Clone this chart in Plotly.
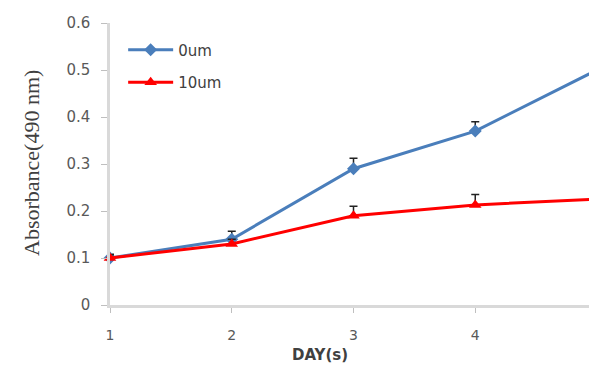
import plotly.graph_objects as go

days = [1, 2, 3, 4, 5]
s0_vals = [0.100, 0.140, 0.290, 0.370, 0.500]
s0_err = [0.008, 0.017, 0.022, 0.020, 0.020]
s10_vals = [0.100, 0.130, 0.190, 0.213, 0.225]
s10_err = [0.007, 0.010, 0.020, 0.022, 0.024]
y_ticks = [0, 0.1, 0.2, 0.3, 0.4, 0.5, 0.6]
y_tick_labels = ["0", "0.1", "0.2", "0.3", "0.4", "0.5", "0.6"]

fig = go.Figure()
fig.add_trace(go.Scatter(
    x=days, y=s0_vals, name="0um", mode="lines+markers", legendgroup="a",
    line=dict(color="#4a7ebb", width=3),
    marker=dict(symbol="diamond", size=10, color="#4a7ebb"),
    error_y=dict(type="data", symmetric=False, array=s0_err,
                 arrayminus=[0] * len(s0_err), color="#222222", thickness=1.5, width=4),
    cliponaxis=False,
))
fig.add_trace(go.Scatter(
    x=days, y=s10_vals, name="10um", mode="lines+markers", legendgroup="b",
    line=dict(color="#ff0000", width=3),
    marker=dict(symbol="triangle-up", size=11, color="#ff0000"),
    error_y=dict(type="data", symmetric=False, array=s10_err,
                 arrayminus=[0] * len(s10_err), color="#222222", thickness=1.5, width=4),
    cliponaxis=False,
))

fig.update_layout(
    width=589, height=357,
    margin=dict(l=102, r=0, t=15, b=60),
    plot_bgcolor="white", paper_bgcolor="white",
    font=dict(family="DejaVu Sans, sans-serif", color="#595959", size=14),
    showlegend=True,
    legend=dict(x=0.027, y=0.963, xanchor="left", yanchor="top",
                bgcolor="rgba(0,0,0,0)", font=dict(size=15, color="#404040"),
                tracegroupgap=10, itemwidth=45),
    xaxis=dict(
        range=[1, 5], tickvals=days, ticktext=[str(d) for d in days],
        showgrid=False, zeroline=False, showline=True, linecolor="#d9d9d9", linewidth=2.5,
        ticks="outside", ticklen=5, tickcolor="#bfbfbf", tickwidth=1,
        ticklabelstandoff=10,
        tickfont=dict(size=14, color="#595959"),
    ),
    yaxis=dict(
        range=[0, 0.6], tickvals=y_ticks, ticktext=y_tick_labels,
        showgrid=False, zeroline=False, showline=True, linecolor="#d9d9d9", linewidth=2.5,
        ticks="outside", ticklen=6, tickcolor="#bfbfbf", tickwidth=1,
        ticklabelstandoff=8,
        tickfont=dict(size=15, color="#595959"),
    ),
    annotations=[
        dict(text="<b>DAY(s)</b>", xref="paper", yref="paper", x=0.432, y=-0.178,
             xanchor="center", yanchor="middle", showarrow=False,
             font=dict(size=15, color="#404040")),
        dict(text="Absorbance(490 nm)", xref="paper", yref="paper", x=-0.16, y=0.504,
             xanchor="center", yanchor="middle", showarrow=False, textangle=-90,
             font=dict(family="Liberation Serif, Times New Roman, serif", size=22, color="#404040")),
    ],
)

fig.write_html("out.html")
